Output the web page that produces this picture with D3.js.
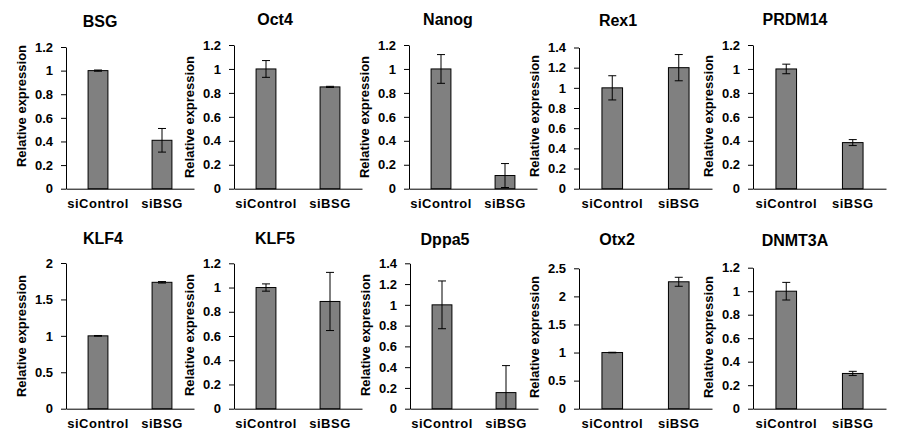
<!DOCTYPE html>
<html><head><meta charset="utf-8">
<script src="https://cdn.jsdelivr.net/npm/d3@7"></script>
<style>body{margin:0;background:#fff} svg{display:block} text{font-family:"Liberation Sans",Arial,sans-serif;font-weight:bold;fill:#000}</style>
</head><body>
<script>
const genes = ["BSG","Oct4","Nanog","Rex1","PRDM14","KLF4","KLF5","Dppa5","Otx2","DNMT3A"];
const categories = ["siControl","siBSG"];
const siControlValues = [1.0,1.0,1.0,1.0,1.0,1.0,1.0,1.0,1.0,1.0];
const siBSGValues = [0.41,0.85,0.11,1.2,0.385,1.735,0.885,0.155,2.26,0.30];
const siControlErrors = [0.005,0.07,0.12,0.12,0.04,0.005,0.03,0.23,0.005,0.075];
const siBSGErrors = [0.10,0.005,0.10,0.13,0.025,0.01,0.24,0.26,0.08,0.018];
const yMaxValues = [1.2,1.2,1.2,1.4,1.2,2,1.2,1.4,2.5,1.2];
const yTickSteps = [0.2,0.2,0.2,0.2,0.2,0.5,0.2,0.2,0.5,0.2];
const yAxisLabel = "Relative expression";

// panel layout (positions only)
const layout = [
 {x0:66,  w:128, yTop:47,   yBot:188.7, titleX:100, titleY:27,  labelY:106},
 {x0:234, w:128, yTop:45,   yBot:188.7, titleX:275, titleY:25,  labelY:117},
 {x0:409, w:128, yTop:45,   yBot:188.7, titleX:448, titleY:25,  labelY:117},
 {x0:579, w:133, yTop:47.5, yBot:188.7, titleX:618, titleY:26,  labelY:116},
 {x0:753, w:133, yTop:45,   yBot:188.7, titleX:795, titleY:25,  labelY:116},
 {x0:66,  w:128, yTop:263,  yBot:408.7, titleX:103, titleY:244, labelY:336},
 {x0:234, w:128, yTop:263.3,yBot:408.7, titleX:275, titleY:244, labelY:335},
 {x0:410, w:128, yTop:263.3,yBot:408.7, titleX:445, titleY:245, labelY:335},
 {x0:579, w:133, yTop:268.3,yBot:408.7, titleX:617, titleY:245, labelY:337},
 {x0:753, w:133, yTop:267.7,yBot:408.7, titleX:795, titleY:246, labelY:337}
];

const svg = d3.select("body").append("svg").attr("width",901).attr("height",440);
svg.append("rect").attr("width",901).attr("height",440).attr("fill","#fff");

genes.forEach((gene,i)=>{
  const L = layout[i];
  const g = svg.append("g");
  const y = d3.scaleLinear().domain([0,yMaxValues[i]]).range([L.yBot,L.yTop]);
  const x = d3.scaleBand().domain(categories).range([L.x0,L.x0+L.w]).paddingInner(0.69).paddingOuter(0.345);
  const tickVals = d3.range(0, yMaxValues[i]+1e-9, yTickSteps[i]).map(v=>Math.round(v*10)/10);

  // y axis
  const ya = g.append("g").attr("transform",`translate(${L.x0},0)`)
    .call(d3.axisLeft(y).tickValues(tickVals).tickFormat(d3.format("~g")).tickSize(5).tickSizeOuter(0).tickPadding(8));
  ya.selectAll("path,line").attr("stroke","#000");
  ya.selectAll("text").style("font-size","13px").attr("fill","#000");

  // x axis line
  const xa = g.append("g").attr("transform",`translate(0,${L.yBot})`)
    .call(d3.axisBottom(x).tickSize(0).tickSizeOuter(0).tickPadding(10));
  xa.select(".domain").attr("stroke","#000");
  xa.selectAll("text").style("font-size","13px").style("letter-spacing","0.5px").attr("fill","#000");

  const vals = [siControlValues[i], siBSGValues[i]];
  const errs = [siControlErrors[i], siBSGErrors[i]];
  const data = categories.map((c,k)=>({c, v:vals[k], e:errs[k]}));

  g.selectAll("rect.bar").data(data).enter().append("rect")
    .attr("class","bar")
    .attr("x",d=>x(d.c)).attr("width",x.bandwidth())
    .attr("y",d=>y(d.v)).attr("height",d=>y(0)-y(d.v))
    .attr("fill","#808080").attr("stroke","#000").attr("stroke-width",1);

  const cap = 4;
  data.forEach(d=>{
    const cx = x(d.c)+x.bandwidth()/2;
    const lo = Math.max(0, d.v-d.e), hi = d.v+d.e;
    g.append("line").attr("x1",cx).attr("x2",cx).attr("y1",y(lo)).attr("y2",y(hi)).attr("stroke","#000");
    g.append("line").attr("x1",cx-cap).attr("x2",cx+cap).attr("y1",y(hi)).attr("y2",y(hi)).attr("stroke","#000");
    if (d.v-d.e > 0) g.append("line").attr("x1",cx-cap).attr("x2",cx+cap).attr("y1",y(lo)).attr("y2",y(lo)).attr("stroke","#000");
  });

  // title
  g.append("text").attr("x",L.titleX).attr("y",L.titleY).attr("text-anchor","middle")
    .style("font-size","16px").text(gene);
  // y label
  g.append("text").attr("transform",`translate(${L.x0-40},${L.labelY}) rotate(-90)`)
    .attr("text-anchor","middle").style("font-size","13px").text(yAxisLabel);
});
</script>
</body></html>
